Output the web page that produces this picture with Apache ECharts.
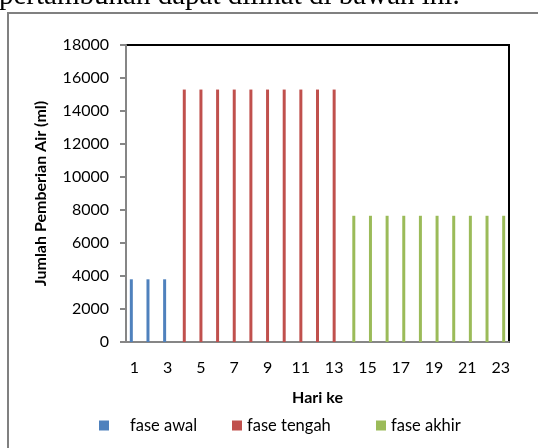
<!DOCTYPE html>
<html>
<head>
<meta charset="utf-8">
<script src="https://cdn.jsdelivr.net/npm/echarts@6/dist/echarts.min.js"></script>
<style>html,body{margin:0;padding:0;background:#fff;}#c{width:538px;height:448px;}</style>
</head>
<body>
<div id="c"></div>
<script>
var days = ['1','2','3','4','5','6','7','8','9','10','11','12','13','14','15','16','17','18','19','20','21','22','23'];
var faseAwal   = [3800,3800,3800,null,null,null,null,null,null,null,null,null,null,null,null,null,null,null,null,null,null,null,null];
var faseTengah = [null,null,null,15300,15300,15300,15300,15300,15300,15300,15300,15300,15300,null,null,null,null,null,null,null,null,null,null];
var faseAkhir  = [null,null,null,null,null,null,null,null,null,null,null,null,null,7650,7650,7650,7650,7650,7650,7650,7650,7650,7650];
var seriesNames = ['fase awal','fase tengah','fase akhir'];
var colors = ['#4F81BD','#C0504D','#9BBB59'];

var font = 'Lato';
var chart = echarts.init(document.getElementById('c'), null, {renderer:'canvas'});
function legendAt(i, left, pad){
  return {
    data:[seriesNames[i]], left:left, top:417, itemWidth:10, itemHeight:10, icon:'rect',
    padding:0, itemGap:0,
    textStyle:{fontFamily:font, fontSize:16.5, color:'#000', padding:[0,0,0,pad]}
  };
}
chart.setOption({
  animation:false,
  color:colors,
  grid:{left:126, top:45, right:29, bottom:106, show:true, borderColor:'#000', borderWidth:2, backgroundColor:'transparent'},
  legend:[legendAt(0,99,16), legendAt(1,232,0), legendAt(2,376,0)],
  xAxis:{
    type:'category', data:days,
    axisLine:{lineStyle:{color:'#868686', width:2}},
    axisTick:{show:false},
    axisLabel:{interval:1, fontFamily:font, fontSize:16, color:'#000', margin:18},
    name:'Hari ke', nameLocation:'middle', nameGap:48,
    nameTextStyle:{fontFamily:font, fontSize:16, fontWeight:'bold', color:'#000'}
  },
  yAxis:{
    type:'value', min:0, max:18000, interval:2000,
    axisLine:{show:true, lineStyle:{color:'#868686', width:2}},
    axisTick:{show:true, inside:false, length:6, lineStyle:{color:'#868686', width:2}},
    splitLine:{show:false},
    axisLabel:{fontFamily:font, fontSize:16, color:'#000', margin:17, formatter:function(v){return String(v);}},
    name:'Jumlah Pemberian Air (ml)', nameLocation:'middle', nameGap:77,
    nameTextStyle:{fontFamily:font, fontSize:16, fontWeight:'bold', color:'#000'}
  },
  series:[
    {name:seriesNames[0], type:'bar', data:faseAwal, barWidth:3, barGap:'0%'},
    {name:seriesNames[1], type:'bar', data:faseTengah, barWidth:3, barGap:'0%'},
    {name:seriesNames[2], type:'bar', data:faseAkhir, barWidth:3, barGap:'0%'}
  ],
  graphic:[
    {type:'text', left:-1, top:-18, style:{text:'pertambuhan dapat dilihat di bawah ini.', font:'29px "Liberation Serif"', fill:'#000'}, silent:true},
    {type:'polyline', shape:{points:[[8,460],[8,13],[545,13]]}, style:{stroke:'#808080', lineWidth:2, fill:null}, silent:true}
  ]
});
</script>
</body>
</html>
